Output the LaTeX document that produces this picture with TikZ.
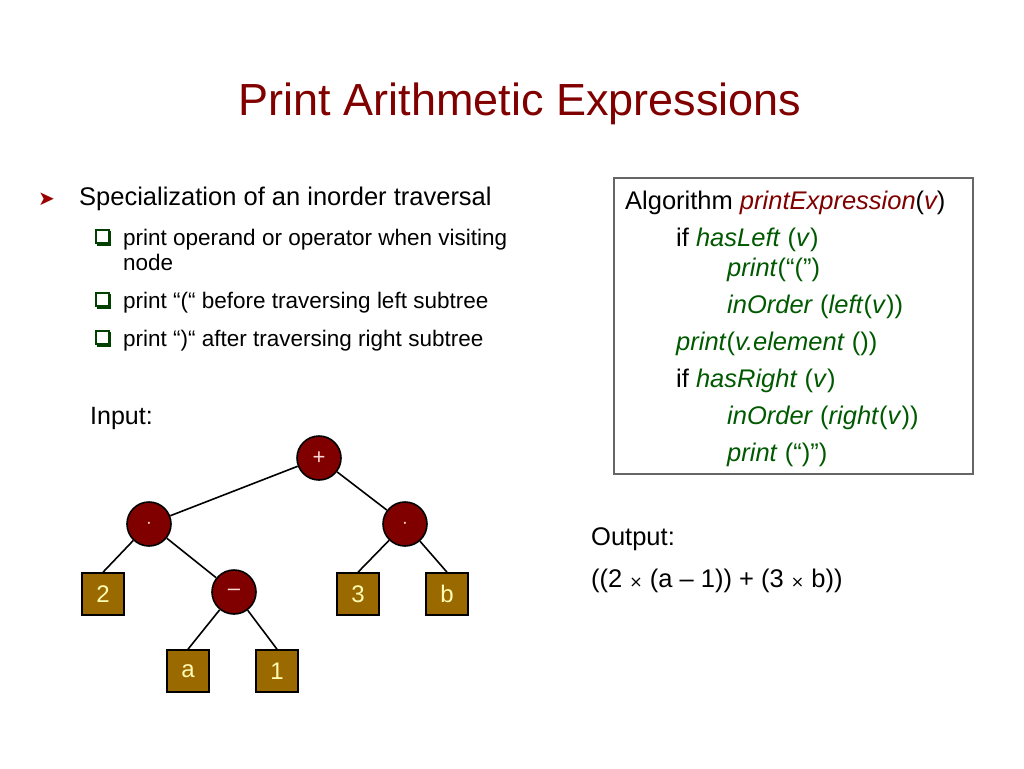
\documentclass[tikz,border=0pt]{standalone}
\usepackage{fontspec}
\setmainfont{Liberation Sans}
\newfontfamily\djv{DejaVu Sans}
\definecolor{leafc}{HTML}{9A6A00}
\begin{document}
\begin{tikzpicture}[x=1pt,y=-1pt,
  op/.style={circle,draw=black,line width=1.6pt,fill=red!50!black,minimum size=44pt,inner sep=0pt,text=red!15!white,font=\fontsize{22}{22}\selectfont},
  leaf/.style={rectangle,draw=black,line width=1.6pt,fill=leafc,minimum size=42pt,inner sep=0pt,text=yellow!30!white,font=\fontsize{24}{24}\selectfont},
  edge/.style={line width=1.6pt},
  txt/.style={anchor=base west,inner sep=0pt},
  kw/.style={text=green!35!black}]
\useasboundingbox (0,0) rectangle (1024,768);
\node[anchor=base,inner sep=0pt,text=red!50!black,font=\fontsize{45}{45}\selectfont] (title) at (520,115) {Print Arithmetic Expressions};
\node[txt,text=red!60!black,font=\djv\fontsize{20}{20}\selectfont] (arr) at (38,205) {➤};
\node[txt,font=\fontsize{25.5}{25.5}\selectfont] (b1) at (79,205) {Specialization of an inorder traversal};
\foreach \n/\y/\t in {s1/245/print operand or operator when visiting, s3/308/{print ``(`` before traversing left subtree}, s4/346/{print ``)`` after traversing right subtree}}{
  \node[txt,font=\fontsize{22.5}{22.5}\selectfont] (\n) at (123,\y) {\t};
  \draw[green!25!black,line width=1.3pt,fill=white] (96,\y-15) rectangle (109,\y-2);
  \draw[green!25!black,line width=2.5pt] (110,\y-14) -- (110,\y) -- (97,\y);
}
\node[txt,font=\fontsize{22.5}{22.5}\selectfont] (s2) at (123,270) {node};
\node[txt,font=\fontsize{25}{25}\selectfont] (inp) at (90,424) {Input:};
% tree
\node[op] (p) at (319,458) {+};
\node[op] (m1) at (149,524) {$\cdot$};
\node[op] (m2) at (405,524) {$\cdot$};
\node[op] (mi) at (234,592) {--};
\node[leaf] (l2) at (103,594) {2};
\node[leaf] (l3) at (358,594) {3};
\node[leaf] (lb) at (447,594) {b};
\node[leaf] (la) at (188,671) {a};
\node[leaf] (l1) at (277,671) {1};
\draw[edge] (p)--(m1) (p)--(m2) (m1)--(l2.north) (m1)--(mi) (m2)--(l3.north) (m2)--(lb.north) (mi)--(la.north) (mi)--(l1.north);
% algorithm box
\node[draw=black!60,line width=1.2pt,minimum width=359pt,minimum height=296pt,inner sep=0pt] (box) at (793.5,326) {};
\begin{scope}[every node/.style={txt,font=\fontsize{25.5}{25.5}\selectfont}]
\node (a1) at (625,209) {Algorithm \textcolor{red!50!black}{\textit{printExpression}}(\textit{\textcolor{red!50!black}{v}})};
\node (a2) at (676,246) {if \textcolor{green!35!black}{\textit{hasLeft} (\textit{v})}};
\node[kw] (a3) at (727,276) {\textit{print}(``('')};
\node[kw] (a4) at (727,313) {\textit{inOrder} (\textit{left}(\textit{v}))};
\node[kw] (a5) at (676,350) {\textit{print}(\textit{v.element} ())};
\node (a6) at (676,387) {if \textcolor{green!35!black}{\textit{hasRight} (\textit{v})}};
\node[kw] (a7) at (727,424) {\textit{inOrder} (\textit{right}(\textit{v}))};
\node[kw] (a8) at (727,461) {\textit{print} (``)'')};
\node (o1) at (591,545) {Output:};
\node (o2) at (591,587) {((2 {\djv\fontsize{16}{16}\selectfont ×} (a -- 1)) + (3 {\djv\fontsize{16}{16}\selectfont ×} b))};
\end{scope}
\end{tikzpicture}
\end{document}
